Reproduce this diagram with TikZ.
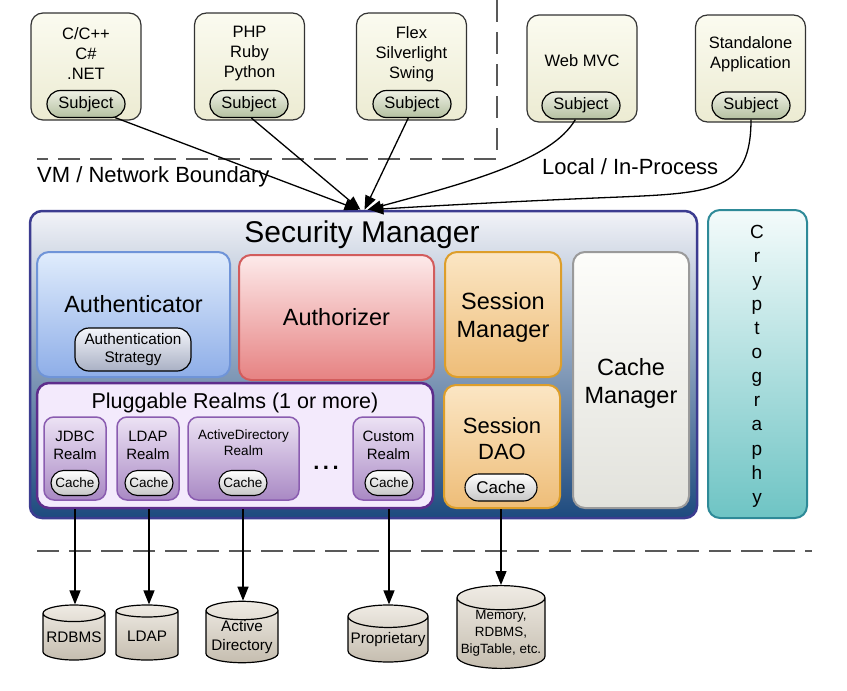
\documentclass[tikz,border=0pt]{standalone}
\usepackage{fontspec}
\setmainfont{Liberation Sans}
\usetikzlibrary{shapes.misc,shapes.geometric,arrows.meta}
\definecolor{cliT}{HTML}{FBFBF0}
\definecolor{cliB}{HTML}{ECEBD2}
\definecolor{subT}{HTML}{EEF0E4}
\definecolor{subB}{HTML}{B4C0A0}
\definecolor{smT}{HTML}{F2F3F8}
\definecolor{smM}{HTML}{C6CEDE}
\definecolor{smB}{HTML}{1D4A7E}
\definecolor{smD}{HTML}{3C3C90}
\definecolor{authT}{HTML}{E0ECFC}
\definecolor{authB}{HTML}{8EAEE8}
\definecolor{authD}{HTML}{6F94D8}
\definecolor{azT}{HTML}{FDEAEA}
\definecolor{azB}{HTML}{E68282}
\definecolor{azD}{HTML}{D25C5C}
\definecolor{sesT}{HTML}{FBE6C4}
\definecolor{sesB}{HTML}{EEBD78}
\definecolor{sesD}{HTML}{DD9E2A}
\definecolor{cmT}{HTML}{FDFDFA}
\definecolor{cmB}{HTML}{E2E2DC}
\definecolor{cmD}{HTML}{9A9A9A}
\definecolor{crT}{HTML}{F4FBFB}
\definecolor{crB}{HTML}{6EC4C4}
\definecolor{crD}{HTML}{2E8A98}
\definecolor{rlmF}{HTML}{F3EAFC}
\definecolor{rlmD}{HTML}{5D2D8C}
\definecolor{realmT}{HTML}{ECE2F4}
\definecolor{realmBot}{HTML}{A989C4}
\definecolor{realmD}{HTML}{8A5CB0}
\definecolor{strT}{HTML}{F4F6FB}
\definecolor{strB}{HTML}{A9B0C4}
\definecolor{cylT}{HTML}{EFEBE4}
\definecolor{cylB}{HTML}{C5BDAF}
\begin{document}
\begin{tikzpicture}[x=1pt,y=-1pt,
  client/.style={draw=black!80, line width=1.2pt, rounded corners=12pt, top color=cliT, bottom color=cliB, minimum width=110pt, minimum height=107pt, inner sep=0pt},
  cltext/.style={font=\fontsize{16.5}{20}\selectfont, align=center, inner sep=0pt},
  subj/.style={rounded rectangle, draw=black, line width=1.2pt, top color=subT, bottom color=subB, minimum width=78pt, minimum height=27pt, inner sep=0pt, font=\fontsize{16.5}{20}\selectfont},
  cachep/.style={rounded rectangle, draw=black, line width=1.1pt, top color=white, bottom color=black!22, minimum height=25pt, minimum width=48pt, inner sep=0pt, font=\fontsize{13.5}{16}\selectfont},
  comp/.style={rounded corners=12pt, line width=2pt, inner sep=0pt, align=center},
  big/.style={font=\fontsize{23.5}{28}\selectfont, align=center, inner sep=0pt},
  realm/.style={draw=realmD, line width=1.5pt, rounded corners=10pt, top color=realmT, bottom color=realmBot, minimum height=83pt, inner sep=0pt},
  realmtxt/.style={font=\fontsize{15}{18}\selectfont, align=center, inner sep=0pt},
  store/.style={cylinder, shape border rotate=90, aspect=0.3, anchor=shape center, draw=black, line width=1.2pt, top color=cylT, bottom color=cylB, inner sep=0pt, align=center, font=\fontsize{15.3}{19}\selectfont},
  arr/.style={line width=1.3pt, -{Triangle[length=14pt,width=11pt]}},
  bound/.style={draw=black!65, line width=1.5pt, dash pattern=on 22pt off 10pt},
  blabel/.style={font=\fontsize{22}{26}\selectfont, anchor=west, inner sep=0pt}
]
\useasboundingbox (0,0) rectangle (847,691);

% clients
\node[client] (c1) at (86,66.5) {};
\node[cltext] (c1t) at (86,54) {C/C++\\C\#\\.NET};
\node[subj] (s1) at (86,104) {Subject};
\node[client] (c2) at (249.5,66.5) {};
\node[cltext] (c2t) at (249.5,54) {PHP\\Ruby\\Python};
\node[subj] (s2) at (249,104) {Subject};
\node[client] (c3) at (411.5,66.5) {};
\node[cltext] (c3t) at (411.5,54) {Flex\\Silverlight\\Swing};
\node[subj] (s3) at (412,104) {Subject};
\node[client] (c4) at (582,68.5) {};
\node[cltext] (c4t) at (582,61) {Web MVC};
\node[subj] (s4) at (581,105.5) {Subject};
\node[client] (c5) at (750.5,68.5) {};
\node[cltext] (c5t) at (750.5,54) {Standalone\\Application};
\node[subj] (s5) at (751,105.5) {Subject};

% boundaries
\coordinate (v0) at (497,0);
\coordinate (v1) at (497,159);
\coordinate (h0) at (37,159);
\draw[bound] (v0) -- (v1) -- (h0);
\node[blabel] (vmlbl) at (37,177) {VM / Network Boundary};
\node[blabel] (loclbl) at (542,167) {Local / In-Process};

% security manager
\node[comp, draw=smD, line width=2.5pt, top color=smT, middle color=smM, bottom color=smB, minimum width=667pt, minimum height=307pt] (sm) at (363.5,364.5) {};
\node[font=\fontsize{30}{34}\selectfont, inner sep=0pt] (smt) at (362,235) {Security Manager};

% authenticator
\node[comp, draw=authD, top color=authT, bottom color=authB, minimum width=193pt, minimum height=125pt] (auth) at (133.5,314.5) {};
\node[big] (autht) at (133.5,304) {Authenticator};
\node[draw=black, line width=1.2pt, rounded corners=14pt, top color=strT, bottom color=strB, minimum width=116pt, minimum height=43pt, inner sep=0pt, align=center, font=\fontsize{15.3}{18}\selectfont] (strat) at (133,349.5) {Authentication\\Strategy};

% authorizer
\node[comp, draw=azD, top color=azT, bottom color=azB, minimum width=195pt, minimum height=125pt, font=\fontsize{23.5}{28}\selectfont] (authz) at (336.5,317.5) {Authorizer};

% session manager
\node[comp, draw=sesD, top color=sesT, bottom color=sesB, minimum width=116pt, minimum height=125pt] (sesm) at (503,314.5) {};
\node[big] (sesmt) at (503,317.5) {Session\\Manager};

% session dao
\node[comp, draw=sesD, top color=sesT, bottom color=sesB, minimum width=116pt, minimum height=123pt] (dao) at (502,446.5) {};
\node[big, font=\fontsize{22}{26}\selectfont] (daot) at (502,439) {Session\\DAO};
\node[cachep, minimum width=72pt, minimum height=27pt, font=\fontsize{17}{20}\selectfont] (daoc) at (501,487.5) {Cache};

% cache manager
\node[comp, draw=cmD, top color=cmT, bottom color=cmB, minimum width=116pt, minimum height=256pt] (cm) at (631,380) {};
\node[big] (cmt) at (631,383.5) {Cache\\Manager};

% cryptography
\node[comp, draw=crD, top color=crT, bottom color=crB, minimum width=99pt, minimum height=308pt] (cry) at (757.5,364) {};
\node[font=\fontsize{19}{24.1}\selectfont, align=center, inner sep=0pt] (cryt) at (757,366) {C\\r\\y\\p\\t\\o\\g\\r\\a\\p\\h\\y};

% pluggable realms
\node[draw=rlmD, line width=2.5pt, rounded corners=12pt, fill=rlmF, minimum width=396pt, minimum height=125pt, inner sep=0pt] (realms) at (235,445.5) {};
\node[font=\fontsize{21.5}{24}\selectfont, inner sep=0pt] (realmst) at (235,403) {Pluggable Realms (1 or more)};

\node[realm, minimum width=62pt] (jdbc) at (75,458.5) {};
\node[realmtxt] (jdbct) at (75,445) {JDBC\\Realm};
\node[cachep] (jdbcc) at (75,483) {Cache};
\node[realm, minimum width=62pt] (ldapr) at (148,458.5) {};
\node[realmtxt] (ldaprt) at (148,445) {LDAP\\Realm};
\node[cachep] (ldapc) at (149,483) {Cache};
\node[realm, minimum width=111pt] (adr) at (243.5,458.5) {};
\node[realmtxt, font=\fontsize{13.5}{16}\selectfont] (adrt) at (243.5,443) {ActiveDirectory\\Realm};
\node[cachep] (adc) at (243,483) {Cache};
\node[font=\bfseries\fontsize{22}{24}\selectfont, inner sep=0pt] (dots) at (326,468) {.\hspace{3.5pt}.\hspace{3.5pt}.};
\node[realm, minimum width=71pt] (cus) at (388.5,458.5) {};
\node[realmtxt] (cust) at (388.5,445) {Custom\\Realm};
\node[cachep] (cusc) at (389,483) {Cache};

% bottom boundary
\coordinate (b0) at (37,551);
\coordinate (b1) at (812,551);
\draw[bound] (b0) -- (b1);

% data stores
\node[store, minimum width=62pt, minimum height=55pt] (rdbms) at (74,632.5) {RDBMS};
\node[store, minimum width=62pt, minimum height=55pt] (ldap) at (147,632.5) {LDAP};
\node[store, minimum width=72pt, minimum height=57pt] (ad) at (242,632) {Active\\Directory};
\node[store, minimum width=80pt, minimum height=57pt] (prop) at (388,633.5) {Proprietary};
\node[store, minimum width=88pt, minimum height=68pt, font=\fontsize{13.4}{17}\selectfont] (mem) at (501,627) {Memory,\\RDBMS,\\BigTable, etc.};

% top arrows
\coordinate (t1) at ([xshift=-5pt]sm.north);
\coordinate (t2) at ([xshift=-3pt]sm.north);
\coordinate (t3) at ([xshift=1pt]sm.north);
\coordinate (t4) at ([xshift=4pt]sm.north);
\coordinate (t5) at ([xshift=6pt]sm.north);
\draw[arr] (s1.-25) -- (t1);
\draw[arr] (s2.-80) -- (t2);
\draw[arr] (s3.-105) -- (t3);
\draw[arr] (s4.-112) .. controls (552,160) and (470,182) .. (t4);
\draw[arr] (s5.-90) .. controls (751,190) and (715,193) .. (620,197) .. controls (520,201) and (430,206) .. (t5);

% bottom arrows
\draw[arr] (jdbcc.south |- realms.south) -- (jdbcc.south |- rdbms.north);
\draw[arr] (ldapc.south |- realms.south) -- (ldapc.south |- ldap.north);
\draw[arr] (adc.south |- realms.south) -- (adc.south |- ad.north);
\draw[arr] (cusc.south |- realms.south) -- (cusc.south |- prop.north);
\draw[arr] (daoc.south |- dao.south) -- (daoc.south |- mem.north);
\end{tikzpicture}
\end{document}
